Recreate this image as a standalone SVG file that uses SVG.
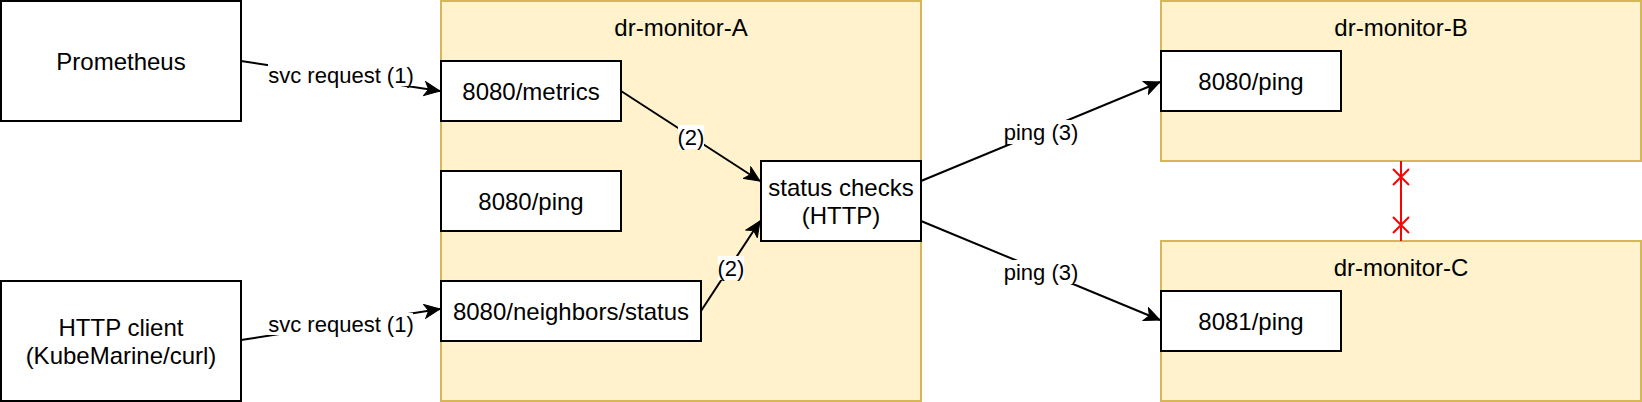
<svg xmlns="http://www.w3.org/2000/svg" width="1642" height="402" viewBox="0 0 1642 402">
<defs>
<style>
.box{fill:#ffffff;stroke:#000000;stroke-width:2}
.cont{fill:#fff2cc;stroke:#d6b656;stroke-width:2}
.t{font-family:"Liberation Sans",Arial,sans-serif;font-size:24px;fill:#000000;text-anchor:middle}
.el{font-family:"Liberation Sans",Arial,sans-serif;font-size:22px;fill:#000000;text-anchor:middle}
.edge{fill:none;stroke:#000000;stroke-width:2}
.lbg{fill:#ffffff}
.red{fill:none;stroke:#ff0000;stroke-width:2}
</style>
<marker id="arr" markerUnits="userSpaceOnUse" markerWidth="18" markerHeight="16" refX="16" refY="7.5" orient="auto" viewBox="0 0 18 16">
<path d="M0.5,0.5 L16,7.5 L0.5,14.5 L4.5,7.5 Z" fill="#000000" stroke="#000000" stroke-width="1"/>
</marker>
</defs>
<rect width="1642" height="402" fill="#ffffff"/>

<g id="dr-monitor-A">
<rect class="cont" x="441" y="1" width="480" height="400"/>
<text class="t" x="681" y="35.5">dr-monitor-A</text>
</g>
<g id="dr-monitor-B">
<rect class="cont" x="1161" y="1" width="480" height="160"/>
<text class="t" x="1401" y="35.5">dr-monitor-B</text>
</g>
<g id="dr-monitor-C">
<rect class="cont" x="1161" y="241" width="480" height="160"/>
<text class="t" x="1401" y="275.5">dr-monitor-C</text>
</g>

<g id="prometheus">
<rect class="box" x="1" y="1" width="240" height="120"/>
<text class="t" x="121" y="69.5">Prometheus</text>
</g>
<g id="http-client">
<rect class="box" x="1" y="281" width="240" height="120"/>
<text class="t" x="121" y="336">HTTP client</text>
<text class="t" x="121" y="364">(KubeMarine/curl)</text>
</g>
<g id="a-metrics">
<rect class="box" x="441" y="61" width="180" height="60"/>
<text class="t" x="531" y="99.5">8080/metrics</text>
</g>
<g id="a-ping">
<rect class="box" x="441" y="171" width="180" height="60"/>
<text class="t" x="531" y="209.5">8080/ping</text>
</g>
<g id="a-neighbors">
<rect class="box" x="441" y="281" width="260" height="60"/>
<text class="t" x="571" y="319.5">8080/neighbors/status</text>
</g>
<g id="status-checks">
<rect class="box" x="761" y="161" width="160" height="80"/>
<text class="t" x="841" y="195.5">status checks</text>
<text class="t" x="841" y="223.5">(HTTP)</text>
</g>
<g id="b-ping">
<rect class="box" x="1161" y="51" width="180" height="60"/>
<text class="t" x="1251" y="89.5">8080/ping</text>
</g>
<g id="c-ping">
<rect class="box" x="1161" y="291" width="180" height="60"/>
<text class="t" x="1251" y="329.5">8081/ping</text>
</g>

<g id="connectors">
<path class="edge" d="M241,61 L440,91" marker-end="url(#arr)"/>
<rect class="lbg" x="268" y="64" width="145" height="22"/>
<text class="el" x="341" y="83">svc request (1)</text>

<path class="edge" d="M241,340 L440,309" marker-end="url(#arr)"/>
<rect class="lbg" x="268" y="313" width="145" height="22"/>
<text class="el" x="341" y="332">svc request (1)</text>

<path class="edge" d="M621,91 L760,181" marker-end="url(#arr)"/>
<rect class="lbg" x="678" y="125" width="26" height="24"/>
<text class="el" x="691" y="145">(2)</text>

<path class="edge" d="M701,311 L760,221" marker-end="url(#arr)"/>
<rect class="lbg" x="718" y="256" width="26" height="24"/>
<text class="el" x="731" y="276">(2)</text>

<path class="edge" d="M921,181 L1160,82" marker-end="url(#arr)"/>
<rect class="lbg" x="1004" y="120" width="74" height="24"/>
<text class="el" x="1041" y="140">ping (3)</text>

<path class="edge" d="M921,221 L1160,320" marker-end="url(#arr)"/>
<rect class="lbg" x="1004" y="260" width="74" height="24"/>
<text class="el" x="1041" y="280">ping (3)</text>

<path class="red" d="M1401,161 L1401,241"/>
<path class="red" d="M1393,169 L1409,185 M1409,169 L1393,185"/>
<path class="red" d="M1393,217 L1409,233 M1409,217 L1393,233"/>
</g>
</svg>
